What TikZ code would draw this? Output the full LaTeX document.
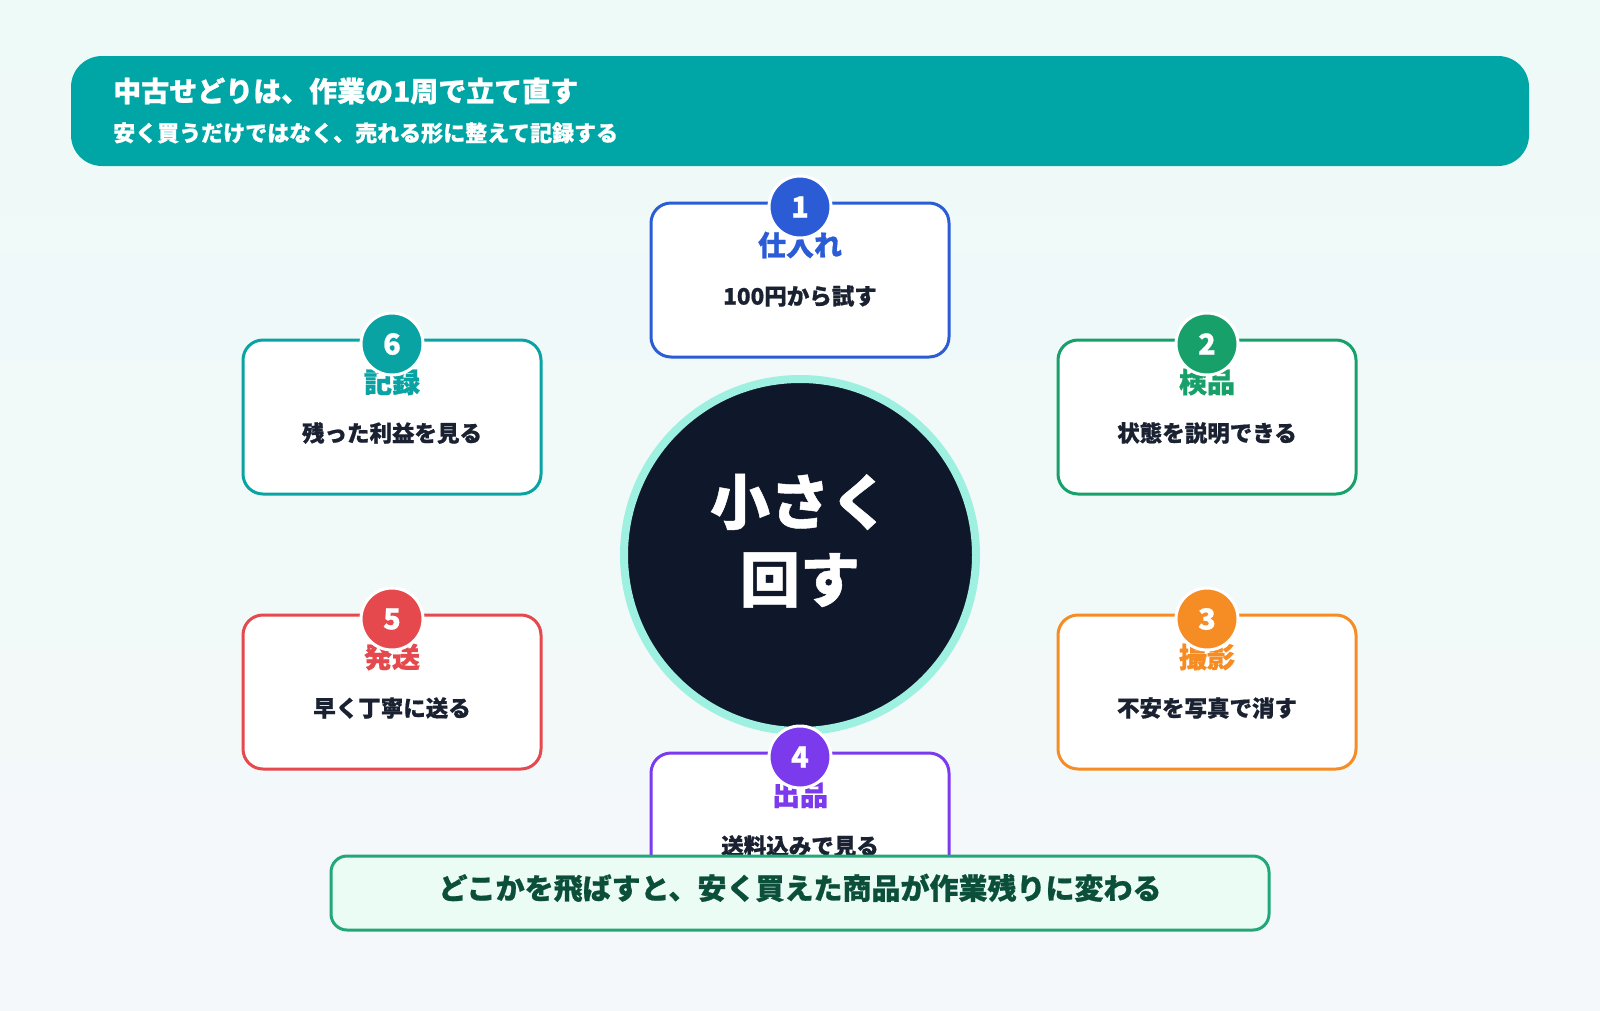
\documentclass[tikz,border=0pt]{standalone}
\usepackage{fontspec}
\setmainfont{Noto Sans CJK JP}[BoldFeatures={FakeBold=0.8}]
\definecolor{bgtop}{HTML}{EEFAF8}
\definecolor{bgbot}{HTML}{F5F8FA}
\definecolor{hdr}{HTML}{00A6A6}
\definecolor{cblue}{HTML}{2B5CD6}
\definecolor{cgreen}{HTML}{17A06A}
\definecolor{corange}{HTML}{F68C24}
\definecolor{cpurple}{HTML}{7C3AED}
\definecolor{cred}{HTML}{E5484D}
\definecolor{cteal}{HTML}{0AA3A3}
\definecolor{navy}{HTML}{0F172A}
\definecolor{ring}{HTML}{9EF0E0}
\definecolor{bnfill}{HTML}{EBFCF4}
\definecolor{bnline}{HTML}{22A878}
\definecolor{bntext}{HTML}{0B4F3A}
\definecolor{dark}{HTML}{1A2232}
\newcommand{\fsz}[1]{\fontsize{#1}{#1}\selectfont}
\begin{document}
\begin{tikzpicture}[x=1pt,y=-1pt,
  stepbox/.style={draw=#1, line width=3pt, rounded corners=20pt, fill=white,
    minimum width=298pt, minimum height=154pt, inner sep=0pt},
  badge/.style={circle, fill=#1, draw=white, line width=3pt, minimum size=62pt,
    inner sep=0pt, text=white, font=\bfseries\fsz{29}},
  steptitle/.style={text=#1, font=\bfseries\fsz{28}, inner sep=0pt},
  stepsub/.style={text=dark, font=\bfseries\fsz{22.5}, inner sep=0pt},
  hdrtext/.style={text=white, font=\bfseries\fsz{#1}, inner sep=0pt, anchor=west}]
\useasboundingbox (0,0) rectangle (1600,1010);
\fill[top color=bgtop, bottom color=bgbot] (0,0) rectangle (1600,1010);
% header
\node[fill=hdr, rounded corners=31pt, minimum width=1458pt, minimum height=110pt, inner sep=0pt] (hdr) at (800,111) {};
\node[hdrtext=28] (htitle) at (113,91) {中古せどりは、作業の1周で立て直す};
\node[hdrtext=22] (hsub) at (113,133) {安く買うだけではなく、売れる形に整えて記録する};
% center circle
\node[circle, fill=navy, draw=ring, line width=8pt, minimum size=352pt, inner sep=0pt] (hub) at (800,555) {};
\node[text=white, font=\bfseries\fsz{60}, inner sep=0pt] (hubA) at (800,502) {小さく};
\node[text=white, font=\bfseries\fsz{60}, inner sep=0pt] (hubB) at (800,580) {回す};
% steps
\foreach \i/\x/\t/\c/\ti/\su in {
  1/800/203/cblue/仕入れ/100円から試す,
  2/1207/340/cgreen/検品/状態を説明できる,
  3/1207/615/corange/撮影/不安を写真で消す,
  4/800/753/cpurple/出品/送料込みで見る,
  5/392/615/cred/発送/早く丁寧に送る,
  6/392/340/cteal/記録/残った利益を見る} {
  \node[stepbox=\c] (box\i) at (\x,\t+77) {};
  \node[steptitle=\c] (title\i) at (\x,\t+42) {\ti};
  \node[stepsub] (sub\i) at (\x,\t+93) {\su};
  \node[badge=\c] (badge\i) at (\x,\t+4) {\i};
}
% bottom banner
\node[fill=bnfill, draw=bnline, line width=3pt, rounded corners=16pt, minimum width=938pt, minimum height=74pt, inner sep=0pt] (banner) at (800,893) {};
\node[text=bntext, font=\bfseries\fsz{29}, inner sep=0pt] (bantext) at (800,888) {どこかを飛ばすと、安く買えた商品が作業残りに変わる};
\end{tikzpicture}
\end{document}
